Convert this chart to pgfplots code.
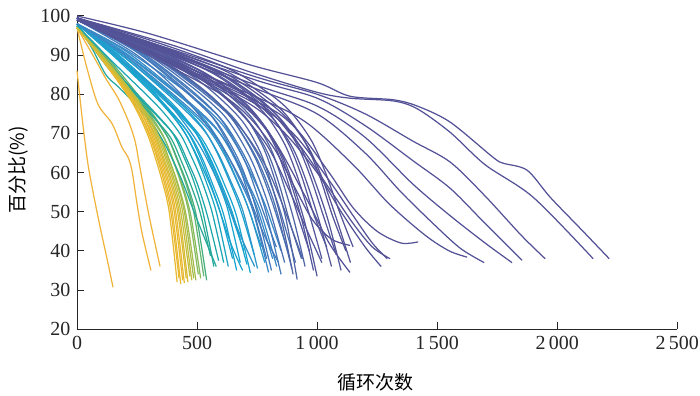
\documentclass[border=0pt]{standalone}
\usepackage{pgfplots}
\pgfplotsset{compat=1.18}
\usepackage{fontspec}
\setmainfont{Liberation Serif}
\newfontfamily\cjk{Noto Sans CJK SC}
\definecolor{cO}{RGB}{240,180,60}
\definecolor{cY1}{RGB}{232,184,48}
\definecolor{cY2}{RGB}{217,187,51}
\definecolor{cY3}{RGB}{195,189,62}
\definecolor{cG1}{RGB}{165,189,77}
\definecolor{cG2}{RGB}{134,186,90}
\definecolor{cG3}{RGB}{98,180,110}
\definecolor{cG4}{RGB}{69,174,128}
\definecolor{cT1}{RGB}{46,170,143}
\definecolor{cT2}{RGB}{34,168,156}
\definecolor{cT3}{RGB}{30,167,168}
\definecolor{cT4}{RGB}{27,166,180}
\definecolor{cT5}{RGB}{26,165,191}
\definecolor{cC1}{RGB}{25,163,207}
\definecolor{cC2}{RGB}{42,151,204}
\definecolor{cC3}{RGB}{58,136,198}
\definecolor{cB1}{RGB}{67,121,187}
\definecolor{cB2}{RGB}{74,111,177}
\definecolor{cP1}{RGB}{79,100,164}
\definecolor{cP2}{RGB}{84,86,155}
\definecolor{cP3}{RGB}{84,82,150}
\begin{document}
\begin{tikzpicture}
\begin{axis}[name=ax,
  scale only axis, width=315.6pt, height=164.7pt,
  xmin=0, xmax=2500, ymin=20, ymax=100,
  axis x line*=bottom, axis y line*=left,
  axis line style={-, line width=0.5pt, black!85},
  tick align=inside, major tick length=3.8pt,
  tick style={line width=0.5pt, black!85},
  xtick={0,500,1000,1500,2000,2500},
  xticklabels={0,500,1\,000,1\,500,2\,000,2\,500},
  ytick={20,30,40,50,60,70,80,90,100},
  /pgf/number format/assume math mode=true,
  ticklabel style={font=\fontsize{10.5}{12}\selectfont, black!85},
  xlabel={\cjk 循环次数}, ylabel={\cjk 百分比(\%)},
  label style={font=\fontsize{11}{13}\selectfont, black!85},
  every axis x label/.style={at={(axis description cs:0.497,0)}, anchor=center, yshift=-27.9pt},
  every axis y label/.style={at={(axis description cs:0,0.508)}, anchor=center, rotate=90, yshift=31pt},
  clip=false,
  every axis plot/.append style={line width=0.65pt, smooth, no markers},
]
% outliers (orange)
\addplot[cO] coordinates {(0,86) (25,72) (46,62) (70,54) (100,45) (125,38) (150,30.7)};
\addplot[cO] coordinates {(0,97) (40,87) (87,77.5) (146,72.5) (187,66.5) (212,64) (229,60.5) (250,52) (271,44.5) (308,35)};
\addplot[cO] coordinates {(0,97) (75,89) (120,84) (171,79) (215,73) (242,68) (260,62) (300,49) (346,36)};
% cyan
\addplot[cT5] coordinates {(0,98) (158,90) (347,78) (441,71) (491,65) (536,58) (580,50) (630,36)};
\addplot[cC1] coordinates {(0,98) (162,90) (356,78) (454,71) (505,65) (551,58) (596,50) (648,38)};
\addplot[cC1] coordinates {(0,98) (166,89) (366,77) (466,70) (519,64) (565,57) (612,49) (665,35)};
\addplot[cC1] coordinates {(0,98) (150,90) (300,82) (450,70) (560,56) (640,42) (690,35)};
\addplot[cC1] coordinates {(0,98) (170,90) (374,79) (476,72) (530,66) (578,59) (626,51) (680,37)};
\addplot[cC1] coordinates {(0,98) (174,90) (382,78) (487,71) (542,65) (591,58) (639,50) (695,40)};
\addplot[cC1] coordinates {(0,98) (177,89) (389,77) (496,70) (552,64) (602,57) (651,49) (708,36.5)};
\addplot[cC1] coordinates {(0,98) (181,89) (397,77) (505,70) (563,64) (614,57) (664,49) (722,34.4)};
\addplot[cC2] coordinates {(0,98) (180,89) (350,80) (500,68) (600,56) (680,44) (740,36)};
\addplot[cC1] coordinates {(0,98) (185,90) (406,79) (517,72) (576,66) (627,59) (679,51) (738,39)};
\addplot[cC2] coordinates {(0,98) (188,90) (414,78) (526,71) (587,65) (639,58) (692,50) (752,35.5)};
\addplot[cC2] coordinates {(0,98) (192,91) (422,80) (538,73) (599,67) (653,60) (707,52) (768,41)};
\addplot[cC2] coordinates {(0,98) (196,90) (430,78) (547,71) (610,65) (665,58) (719,50) (782,37)};
\addplot[cC3] coordinates {(0,98) (200,90) (439,78) (559,71) (622,65) (678,58) (734,50) (798,34.5)};
\addplot[cC3] coordinates {(0,98) (204,91) (448,79) (571,72) (636,66) (693,59) (750,51) (815,38)};
\addplot[cC3] coordinates {(0,98) (208,90) (458,78) (582,71) (649,65) (707,58) (765,50) (832,36)};
\addplot[cC3] coordinates {(0,98) (213,91) (468,80) (595,73) (663,67) (723,60) (782,52) (850,40)};
% green / teal
\addplot[cG1] coordinates {(0,97.5) (122,89) (267,77) (340,70) (379,64) (413,58) (447,50) (486,33)};
\addplot[cG1] coordinates {(0,97.5) (124,88) (272,76) (347,69) (386,63) (421,57) (455,49) (495,32.5)};
\addplot[cG2] coordinates {(0,97.5) (126,89) (278,77) (354,70) (394,64) (429,58) (465,50) (505,34)};
\addplot[cG2] coordinates {(0,97.5) (129,88) (283,76) (361,69) (402,63) (438,57) (474,49) (515,33)};
\addplot[cG3] coordinates {(0,97.5) (132,89) (290,77) (370,70) (412,64) (449,58) (486,50) (528,33.5)};
\addplot[cG4] coordinates {(0,97.5) (135,88) (297,76) (378,69) (421,63) (459,57) (497,49) (540,32.5)};
\addplot[cT1] coordinates {(0,97.5) (139,86) (306,75) (389,69) (434,63) (473,57) (512,50) (556,38.7)};
\addplot[cT2] coordinates {(0,97.5) (60,92) (120,85) (170,82) (250,77) (350,69) (430,59) (500,48) (580,36)};
\addplot[cT2] coordinates {(0,97.5) (143,87) (314,76) (399,70) (445,64) (485,58) (524,50) (570,36)};
\addplot[cT3] coordinates {(0,97.5) (148,86) (325,75) (413,69) (460,63) (502,57) (543,49) (590,37.5)};
\addplot[cT4] coordinates {(0,97.5) (153,88) (336,77) (428,70) (477,64) (519,58) (562,50) (611,37)};
% yellow bundle
\addplot[cY1] coordinates {(0,97) (104,89) (229,78) (292,70) (325,64) (354,58) (384,50) (417,32)};
\addplot[cY1] coordinates {(0,97) (106,89) (234,78) (298,70) (332,64) (361,58) (391,50) (425,33)};
\addplot[cY1] coordinates {(0,97) (108,88.5) (238,77.5) (302,70) (337,64) (367,58) (397,50) (432,31.5)};
\addplot[cY1] coordinates {(0,97) (110,89) (242,78) (308,70) (343,64) (374,58) (405,50) (440,32.5)};
\addplot[cY1] coordinates {(0,97) (112,88.5) (246,77.5) (313,70) (349,64) (380,58) (411,50) (447,31.8)};
\addplot[cY2] coordinates {(0,97) (114,89) (250,78) (319,70) (355,64) (387,58) (419,50) (455,33)};
\addplot[cY2] coordinates {(0,97) (116,88.5) (254,77.5) (323,70) (360,64) (393,58) (425,50) (462,32)};
\addplot[cY3] coordinates {(0,97) (118,89) (259,78) (329,70) (367,64) (400,58) (432,50) (470,33.5)};
\addplot[cY3] coordinates {(0,97) (120,88.5) (263,77.5) (335,70) (373,64) (406,58) (440,50) (478,32.5)};
% blue
\addplot[cB1] coordinates {(0,99) (237,91.5) (435,82) (553,75) (616,69) (672,62) (727,52) (790,38)};
\addplot[cB1] coordinates {(0,99) (243,91) (446,81) (567,74) (632,68) (689,61) (745,51) (810,35)};
\addplot[cB1] coordinates {(0,99) (250,90) (450,79) (600,67) (700,56) (780,44) (840,37)};
\addplot[cB1] coordinates {(0,99) (249,91.5) (457,82) (581,75) (647,69) (706,62) (764,52) (830,41)};
\addplot[cB1] coordinates {(0,99) (255,91) (468,81) (595,74) (663,68) (723,61) (782,51) (850,34)};
\addplot[cB2] coordinates {(0,99) (260,91.5) (476,82) (606,75) (675,69) (735,62) (796,52) (865,37)};
\addplot[cB2] coordinates {(0,99) (264,92) (484,83) (616,76) (686,70) (748,63) (810,53) (880,39.5)};
\addplot[cB2] coordinates {(0,99) (269,91.5) (492,82) (627,75) (698,69) (761,62) (823,52) (895,35.5)};
\addplot[cB2] coordinates {(0,99) (273,91.5) (501,82) (637,75) (710,69) (774,62) (837,52) (910,37)};
% purple bulk
\addplot[cP1] coordinates {(0,99.5) (270,92) (495,84) (630,77) (702,72) (765,65) (810,57) (855,47) (900,34)};
\addplot[cP1] coordinates {(0,99.5) (275,92) (504,85) (642,78) (715,73) (779,66) (825,58) (871,48) (917,32.7)};
\addplot[cP1] coordinates {(0,99.5) (300,91) (550,80) (700,70) (800,60) (880,48) (940,38)};
\addplot[cP1] coordinates {(0,99.5) (281,92) (514,84) (655,77) (729,72) (795,65) (842,57) (888,47) (935,38)};
\addplot[cP1] coordinates {(0,99.5) (285,92) (523,85) (665,78) (741,73) (808,66) (855,58) (903,48) (950,36)};
\addplot[cP2] coordinates {(0,99.5) (290,92.5) (532,85.5) (678,79) (755,74) (823,67) (871,59) (920,49) (968,40)};
\addplot[cP2] coordinates {(0,99.5) (296,92) (542,85) (690,78) (768,73) (837,66) (887,58) (936,48) (985,35)};
\addplot[cP2] coordinates {(0,99.5) (300,92) (550,84) (700,77) (780,72) (850,65) (900,57) (950,47) (1000,33.5)};
\addplot[cP2] coordinates {(0,99.5) (350,90) (600,80) (780,68) (880,56) (960,45) (1020,37)};
\addplot[cP2] coordinates {(0,99.5) (306,92.5) (561,85.5) (714,79) (796,74) (867,67) (918,59) (969,49) (1020,38)};
\addplot[cP2] coordinates {(0,99.5) (312,92.5) (572,86) (728,79.5) (811,74.4) (884,67) (936,59) (988,49) (1040,41)};
\addplot[cP2] coordinates {(0,99.5) (318,92) (583,85) (742,78) (827,73) (901,66) (954,58) (1007,48) (1060,36)};
\addplot[cP2] coordinates {(0,99.5) (324,92.5) (594,85.5) (756,79) (842,74) (918,67) (972,59) (1026,49) (1080,39)};
\addplot[cP2] coordinates {(0,99.5) (330,92) (605,85) (770,78) (858,73) (935,66) (990,58) (1045,48) (1100,35)};
\addplot[cP3] coordinates {(0,99.5) (336,92.5) (616,86) (784,79.5) (874,74.5) (952,67.5) (1008,59.5) (1064,49) (1120,40)};
\addplot[cP3] coordinates {(0,99.5) (342,92) (626,85) (797,78) (888,73) (968,66) (1025,58) (1082,48) (1139,37)};
\addplot[cP3] coordinates {(0,99.5) (345,93) (633,86.5) (805,80) (897,75) (978,68) (1035,60) (1093,50) (1150,41)};
% long purple curves
\addplot[cP3] coordinates {(0,99) (600,80) (800,68) (900,57) (980,48) (1060,43) (1137,41.4)};
\addplot[cP3] coordinates {(0,99) (600,81) (800,70) (950,54) (1050,42) (1137,34.5)};
\addplot[cP3] coordinates {(0,99) (650,80) (850,71) (1000,60) (1100,50) (1200,41) (1267,36)};
\addplot[cP3] coordinates {(0,99) (700,79) (900,70) (1050,58) (1150,49) (1230,42) (1292,38)};
\addplot[cP3] coordinates {(0,99) (700,80) (900,69) (1050,56) (1150,47) (1230,41) (1304,38)};
\addplot[cP3] coordinates {(0,99) (721,79) (900,72) (1050,60) (1150,51) (1250,45) (1350,42) (1421,42.3)};
\addplot[cP3] coordinates {(0,99) (721,80) (950,73) (1150,62) (1300,52) (1450,44) (1550,40) (1625,38.4)};
\addplot[cP3] coordinates {(0,99.3) (721,82) (1000,75) (1200,65) (1350,55) (1500,46) (1600,40.5) (1696,37)};
\addplot[cP3] coordinates {(0,99.3) (721,82.9) (1000,77) (1200,69) (1400,57) (1554,49) (1700,42) (1812,37)};
\addplot[cP3] coordinates {(0,99.5) (721,84.1) (1000,79) (1200,72) (1400,63) (1554,56) (1700,47) (1854,37.6)};
\addplot[cP3] coordinates {(0,99.5) (721,84.9) (1000,80) (1200,75) (1400,68) (1554,62.7) (1700,54) (1850,44) (1950,38)};
\addplot[cP3] coordinates {(0,99.5) (400,92.5) (721,85.7) (1000,80.5) (1137,79) (1317,78.3) (1417,76.3) (1554,70.3) (1700,62) (1900,53.7) (2150,38)};
\addplot[cP3] coordinates {(0,100) (300,95.5) (721,87.5) (1000,83) (1137,79.5) (1317,78.6) (1417,77) (1554,72.9) (1733,63.9) (1775,62.4) (1875,60.6) (1971,53.7) (2100,45.5) (2217,38)};
\end{axis}
\pgfresetboundingbox
\useasboundingbox ([shift={(-40.5pt,-35pt)}]ax.south west) rectangle ([shift={(12pt,8.4pt)}]ax.north east);
\end{tikzpicture}
\end{document}
